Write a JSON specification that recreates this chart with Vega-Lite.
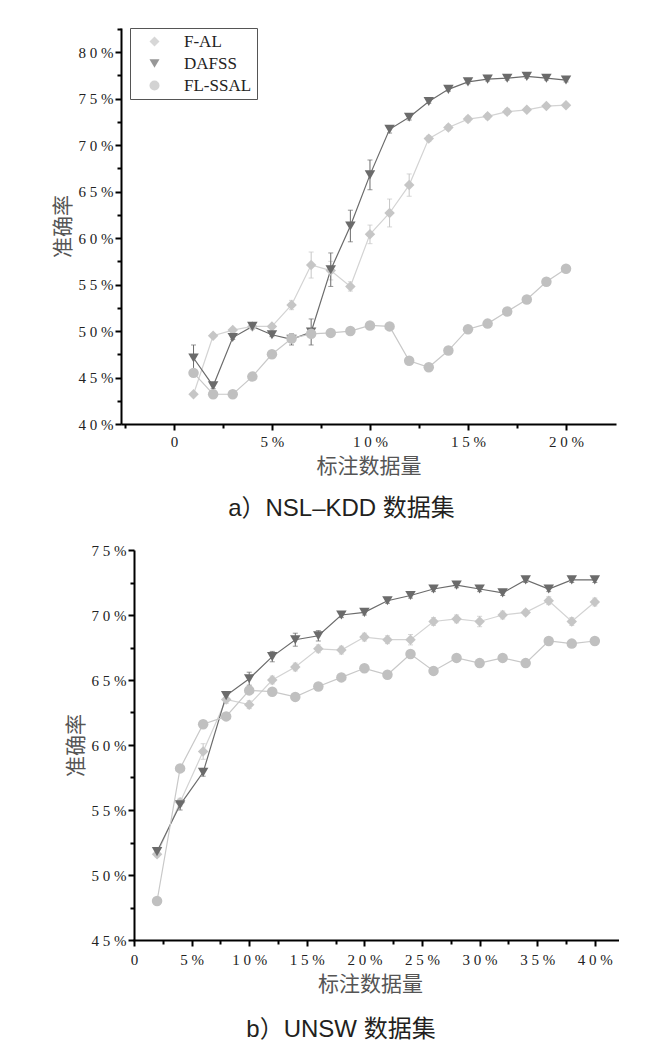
{
  "$schema": "https://vega.github.io/schema/vega-lite/v6.json",
  "background": "white",
  "padding": {"left": 52, "top": 21, "right": 0, "bottom": 0},
  "spacing": 22,
  "config": {"view": {"stroke": null}, "font": "Liberation Serif"},
  "datasets": {
    "nsl": [
      {"m": "F-AL", "x": 1, "y": 43.2, "e": 0.2}, {"m": "F-AL", "x": 2, "y": 49.5, "e": 0.2}, {"m": "F-AL", "x": 3, "y": 50.1, "e": 0.2}, {"m": "F-AL", "x": 4, "y": 50.5, "e": 0.3}, {"m": "F-AL", "x": 5, "y": 50.5, "e": 0.2},
      {"m": "F-AL", "x": 6, "y": 52.8, "e": 0.5}, {"m": "F-AL", "x": 7, "y": 57.1, "e": 1.4}, {"m": "F-AL", "x": 8, "y": 56.5, "e": 1.0}, {"m": "F-AL", "x": 9, "y": 54.8, "e": 0.5}, {"m": "F-AL", "x": 10, "y": 60.4, "e": 1.0},
      {"m": "F-AL", "x": 11, "y": 62.7, "e": 1.5}, {"m": "F-AL", "x": 12, "y": 65.7, "e": 1.2}, {"m": "F-AL", "x": 13, "y": 70.7, "e": 0.3}, {"m": "F-AL", "x": 14, "y": 71.9, "e": 0.3}, {"m": "F-AL", "x": 15, "y": 72.8, "e": 0.3},
      {"m": "F-AL", "x": 16, "y": 73.1, "e": 0.3}, {"m": "F-AL", "x": 17, "y": 73.6, "e": 0.3}, {"m": "F-AL", "x": 18, "y": 73.8, "e": 0.2}, {"m": "F-AL", "x": 19, "y": 74.2, "e": 0.2}, {"m": "F-AL", "x": 20, "y": 74.3, "e": 0.2},
      {"m": "DAFSS", "x": 1, "y": 47.1, "e": 1.4}, {"m": "DAFSS", "x": 2, "y": 44.1, "e": 0.3}, {"m": "DAFSS", "x": 3, "y": 49.3, "e": 0.2}, {"m": "DAFSS", "x": 4, "y": 50.5, "e": 0.2}, {"m": "DAFSS", "x": 5, "y": 49.6, "e": 0.2},
      {"m": "DAFSS", "x": 6, "y": 49.1, "e": 0.6}, {"m": "DAFSS", "x": 7, "y": 49.9, "e": 1.4}, {"m": "DAFSS", "x": 8, "y": 56.6, "e": 1.8}, {"m": "DAFSS", "x": 9, "y": 61.3, "e": 1.7}, {"m": "DAFSS", "x": 10, "y": 66.8, "e": 1.6},
      {"m": "DAFSS", "x": 11, "y": 71.7, "e": 0.4}, {"m": "DAFSS", "x": 12, "y": 73.0, "e": 0.3}, {"m": "DAFSS", "x": 13, "y": 74.7, "e": 0.2}, {"m": "DAFSS", "x": 14, "y": 76.0, "e": 0.2}, {"m": "DAFSS", "x": 15, "y": 76.8, "e": 0.2},
      {"m": "DAFSS", "x": 16, "y": 77.1, "e": 0.2}, {"m": "DAFSS", "x": 17, "y": 77.2, "e": 0.2}, {"m": "DAFSS", "x": 18, "y": 77.4, "e": 0.2}, {"m": "DAFSS", "x": 19, "y": 77.2, "e": 0.2}, {"m": "DAFSS", "x": 20, "y": 77.0, "e": 0.2},
      {"m": "FL-SSAL", "x": 1, "y": 45.5, "e": 0}, {"m": "FL-SSAL", "x": 2, "y": 43.2, "e": 0}, {"m": "FL-SSAL", "x": 3, "y": 43.2, "e": 0}, {"m": "FL-SSAL", "x": 4, "y": 45.1, "e": 0}, {"m": "FL-SSAL", "x": 5, "y": 47.5, "e": 0},
      {"m": "FL-SSAL", "x": 6, "y": 49.2, "e": 0}, {"m": "FL-SSAL", "x": 7, "y": 49.7, "e": 0}, {"m": "FL-SSAL", "x": 8, "y": 49.8, "e": 0}, {"m": "FL-SSAL", "x": 9, "y": 50.0, "e": 0}, {"m": "FL-SSAL", "x": 10, "y": 50.6, "e": 0},
      {"m": "FL-SSAL", "x": 11, "y": 50.5, "e": 0}, {"m": "FL-SSAL", "x": 12, "y": 46.8, "e": 0}, {"m": "FL-SSAL", "x": 13, "y": 46.1, "e": 0}, {"m": "FL-SSAL", "x": 14, "y": 47.9, "e": 0}, {"m": "FL-SSAL", "x": 15, "y": 50.2, "e": 0},
      {"m": "FL-SSAL", "x": 16, "y": 50.8, "e": 0}, {"m": "FL-SSAL", "x": 17, "y": 52.1, "e": 0}, {"m": "FL-SSAL", "x": 18, "y": 53.4, "e": 0}, {"m": "FL-SSAL", "x": 19, "y": 55.3, "e": 0}, {"m": "FL-SSAL", "x": 20, "y": 56.7, "e": 0}
    ],
    "unsw": [
      {"m": "F-AL", "x": 2, "y": 51.6, "e": 0.2}, {"m": "F-AL", "x": 4, "y": 55.6, "e": 0.3}, {"m": "F-AL", "x": 6, "y": 59.5, "e": 0.6}, {"m": "F-AL", "x": 8, "y": 63.5, "e": 0.3}, {"m": "F-AL", "x": 10, "y": 63.1, "e": 0.3},
      {"m": "F-AL", "x": 12, "y": 65.0, "e": 0.3}, {"m": "F-AL", "x": 14, "y": 66.0, "e": 0.3}, {"m": "F-AL", "x": 16, "y": 67.4, "e": 0.3}, {"m": "F-AL", "x": 18, "y": 67.3, "e": 0.3}, {"m": "F-AL", "x": 20, "y": 68.3, "e": 0.3},
      {"m": "F-AL", "x": 22, "y": 68.1, "e": 0.3}, {"m": "F-AL", "x": 24, "y": 68.1, "e": 0.4}, {"m": "F-AL", "x": 26, "y": 69.5, "e": 0.3}, {"m": "F-AL", "x": 28, "y": 69.7, "e": 0.3}, {"m": "F-AL", "x": 30, "y": 69.5, "e": 0.4},
      {"m": "F-AL", "x": 32, "y": 70.0, "e": 0.3}, {"m": "F-AL", "x": 34, "y": 70.2, "e": 0.2}, {"m": "F-AL", "x": 36, "y": 71.1, "e": 0.3}, {"m": "F-AL", "x": 38, "y": 69.5, "e": 0.3}, {"m": "F-AL", "x": 40, "y": 71.0, "e": 0.3},
      {"m": "DAFSS", "x": 2, "y": 51.8, "e": 0.2}, {"m": "DAFSS", "x": 4, "y": 55.4, "e": 0.4}, {"m": "DAFSS", "x": 6, "y": 57.9, "e": 0.3}, {"m": "DAFSS", "x": 8, "y": 63.8, "e": 0.3}, {"m": "DAFSS", "x": 10, "y": 65.1, "e": 0.5},
      {"m": "DAFSS", "x": 12, "y": 66.8, "e": 0.4}, {"m": "DAFSS", "x": 14, "y": 68.1, "e": 0.5}, {"m": "DAFSS", "x": 16, "y": 68.4, "e": 0.4}, {"m": "DAFSS", "x": 18, "y": 70.0, "e": 0.2}, {"m": "DAFSS", "x": 20, "y": 70.2, "e": 0.2},
      {"m": "DAFSS", "x": 22, "y": 71.1, "e": 0.2}, {"m": "DAFSS", "x": 24, "y": 71.5, "e": 0.2}, {"m": "DAFSS", "x": 26, "y": 72.0, "e": 0.2}, {"m": "DAFSS", "x": 28, "y": 72.3, "e": 0.2}, {"m": "DAFSS", "x": 30, "y": 72.0, "e": 0.2},
      {"m": "DAFSS", "x": 32, "y": 71.7, "e": 0.2}, {"m": "DAFSS", "x": 34, "y": 72.7, "e": 0.2}, {"m": "DAFSS", "x": 36, "y": 72.0, "e": 0.2}, {"m": "DAFSS", "x": 38, "y": 72.7, "e": 0.2}, {"m": "DAFSS", "x": 40, "y": 72.7, "e": 0.2},
      {"m": "FL-SSAL", "x": 2, "y": 48.0, "e": 0}, {"m": "FL-SSAL", "x": 4, "y": 58.2, "e": 0}, {"m": "FL-SSAL", "x": 6, "y": 61.6, "e": 0}, {"m": "FL-SSAL", "x": 8, "y": 62.2, "e": 0}, {"m": "FL-SSAL", "x": 10, "y": 64.2, "e": 0},
      {"m": "FL-SSAL", "x": 12, "y": 64.1, "e": 0}, {"m": "FL-SSAL", "x": 14, "y": 63.7, "e": 0}, {"m": "FL-SSAL", "x": 16, "y": 64.5, "e": 0}, {"m": "FL-SSAL", "x": 18, "y": 65.2, "e": 0}, {"m": "FL-SSAL", "x": 20, "y": 65.9, "e": 0},
      {"m": "FL-SSAL", "x": 22, "y": 65.4, "e": 0}, {"m": "FL-SSAL", "x": 24, "y": 67.0, "e": 0}, {"m": "FL-SSAL", "x": 26, "y": 65.7, "e": 0}, {"m": "FL-SSAL", "x": 28, "y": 66.7, "e": 0}, {"m": "FL-SSAL", "x": 30, "y": 66.3, "e": 0},
      {"m": "FL-SSAL", "x": 32, "y": 66.7, "e": 0}, {"m": "FL-SSAL", "x": 34, "y": 66.3, "e": 0}, {"m": "FL-SSAL", "x": 36, "y": 68.0, "e": 0}, {"m": "FL-SSAL", "x": 38, "y": 67.8, "e": 0}, {"m": "FL-SSAL", "x": 40, "y": 68.0, "e": 0}
    ]
  },
  "vconcat": [
    {
      "width": 495,
      "height": 396,
      "data": {"name": "nsl"},
      "title": {"text": "a）NSL–KDD 数据集", "orient": "bottom", "anchor": "middle", "dx": -27, "offset": 21, "font": "Liberation Sans, Noto Sans CJK SC", "fontSize": 24, "fontWeight": "normal", "color": "#231f20"},
      "encoding": {
        "x": {"field": "x", "type": "quantitative", "scale": {"domain": [-2.7, 22.55], "nice": false, "zero": false},
          "axis": {"values": [-2.5, 0, 2.5, 5, 7.5, 10, 12.5, 15, 17.5, 20],
            "labelExpr": "datum.value == 0 ? '0' : (datum.value % 5 != 0 ? '' : (datum.value < 10 ? datum.value + ' %' : floor(datum.value/10) + ' ' + (datum.value % 10) + ' %'))",
            "title": "标注数据量", "titleFont": "Noto Sans CJK SC", "titleFontSize": 21, "titleFontWeight": "normal", "titleColor": "#555", "titlePadding": 6,
            "labelFont": "Liberation Serif", "labelFontSize": 15, "labelColor": "#222", "labelPadding": 4, "labelFlush": false, "labelOverlap": false,
            "tickSize": {"condition": {"test": "datum.value % 5 != 0", "value": 4}, "value": 6}, "tickColor": "#000", "tickWidth": 2,
            "domainColor": "#000", "domainWidth": 2, "grid": false}},
        "y": {"field": "y", "type": "quantitative", "scale": {"domain": [40, 82.6], "nice": false, "zero": false},
          "axis": {"values": [40, 42.5, 45, 47.5, 50, 52.5, 55, 57.5, 60, 62.5, 65, 67.5, 70, 72.5, 75, 77.5, 80, 82.5],
            "labelExpr": "datum.value % 5 == 0 ? floor(datum.value/10) + ' ' + (datum.value % 10) + ' %' : ''",
            "title": "准确率", "titleFont": "Noto Sans CJK SC", "titleFontSize": 21, "titleFontWeight": "normal", "titleColor": "#555", "titlePadding": 5,
            "labelFont": "Liberation Serif", "labelFontSize": 15, "labelColor": "#222", "labelPadding": 2, "labelFlush": false, "labelOverlap": false,
            "tickSize": {"condition": {"test": "datum.value % 5 != 0", "value": 4}, "value": 6}, "tickColor": "#000", "tickWidth": 2,
            "domainColor": "#000", "domainWidth": 2, "grid": false}},
        "color": {"field": "m", "type": "nominal", "scale": {"domain": ["F-AL", "DAFSS", "FL-SSAL"], "range": ["#c6c6c6", "#6b6b6b", "#c0c0c0"]},
          "legend": {"title": null, "orient": "none", "legendX": 9, "legendY": 0, "strokeColor": "#555", "fillColor": "#fff", "padding": 5, "symbolOffset": 11, "labelOffset": 21, "labelFont": "Liberation Serif", "labelFontSize": 17, "labelColor": "#222", "rowPadding": 4, "symbolSize": 100, "symbolStrokeWidth": 0}}
      },
      "layer": [
        {"transform": [{"filter": "datum.m != 'FL-SSAL'"}], "mark": {"type": "errorbar", "ticks": true}, "encoding": {"yError": {"field": "e"}}},
        {"mark": {"type": "line", "strokeWidth": 1.2},
          "encoding": {"stroke": {"field": "m", "type": "nominal", "scale": {"domain": ["F-AL", "DAFSS", "FL-SSAL"], "range": ["#d3d3d3", "#6b6b6b", "#c8c8c8"]}, "legend": null}}},
        {"mark": {"type": "point", "filled": true, "opacity": 1, "size": 110},
          "encoding": {"shape": {"field": "m", "type": "nominal", "scale": {"domain": ["F-AL", "DAFSS", "FL-SSAL"], "range": ["diamond", "triangle-down", "circle"]},
            "legend": {"title": null, "orient": "none", "legendX": 9, "legendY": 0, "strokeColor": "#555", "fillColor": "#fff", "padding": 5, "symbolOffset": 11, "labelOffset": 21, "labelFont": "Liberation Serif", "labelFontSize": 17, "labelColor": "#222", "rowPadding": 4, "symbolSize": 100, "symbolStrokeWidth": 0}}}}
      ]
    },
    {
      "width": 498,
      "height": 390,
      "data": {"name": "unsw"},
      "title": {"text": "b）UNSW 数据集", "orient": "bottom", "anchor": "middle", "dx": -29, "offset": 24, "font": "Liberation Sans, Noto Sans CJK SC", "fontSize": 24, "fontWeight": "normal", "color": "#231f20"},
      "encoding": {
        "x": {"field": "x", "type": "quantitative", "scale": {"domain": [-1.13, 42.1], "nice": false, "zero": false},
          "axis": {"values": [0, 2.5, 5, 7.5, 10, 12.5, 15, 17.5, 20, 22.5, 25, 27.5, 30, 32.5, 35, 37.5, 40],
            "labelExpr": "datum.value == 0 ? '0' : (datum.value % 5 != 0 ? '' : (datum.value < 10 ? datum.value + ' %' : floor(datum.value/10) + ' ' + (datum.value % 10) + ' %'))",
            "title": "标注数据量", "titleFont": "Noto Sans CJK SC", "titleFontSize": 21, "titleFontWeight": "normal", "titleColor": "#555", "titlePadding": 6,
            "labelFont": "Liberation Serif", "labelFontSize": 15, "labelColor": "#222", "labelPadding": 6, "labelFlush": false, "labelOverlap": false,
            "tickSize": {"condition": {"test": "datum.value % 5 != 0", "value": 4}, "value": 6}, "tickColor": "#000", "tickWidth": 2,
            "domainColor": "#000", "domainWidth": 2, "domainDash": [0, 12, 600], "grid": false}},
        "y": {"field": "y", "type": "quantitative", "scale": {"domain": [45, 75], "nice": false, "zero": false},
          "axis": {"values": [45, 47.5, 50, 52.5, 55, 57.5, 60, 62.5, 65, 67.5, 70, 72.5, 75], "offset": -13,
            "labelExpr": "datum.value % 5 == 0 ? floor(datum.value/10) + ' ' + (datum.value % 10) + ' %' : ''",
            "title": "准确率", "titleFont": "Noto Sans CJK SC", "titleFontSize": 21, "titleFontWeight": "normal", "titleColor": "#555", "titlePadding": 5,
            "labelFont": "Liberation Serif", "labelFontSize": 15, "labelColor": "#222", "labelPadding": 2, "labelFlush": false, "labelOverlap": false,
            "tickSize": {"condition": {"test": "datum.value % 5 != 0", "value": 4}, "value": 6}, "tickColor": "#000", "tickWidth": 2,
            "domainColor": "#000", "domainWidth": 2, "grid": false}},
        "color": {"field": "m", "type": "nominal", "scale": {"domain": ["F-AL", "DAFSS", "FL-SSAL"], "range": ["#c6c6c6", "#6b6b6b", "#c0c0c0"]},
          "legend": {"title": null, "orient": "none", "legendX": 25, "legendY": 2, "strokeColor": "#555", "fillColor": "#fff", "padding": 5, "symbolOffset": 11, "labelOffset": 21, "labelFont": "Liberation Serif", "labelFontSize": 17, "labelColor": "#222", "rowPadding": 4, "symbolSize": 100, "symbolStrokeWidth": 0}}
      },
      "layer": [
        {"transform": [{"filter": "datum.m != 'FL-SSAL'"}], "mark": {"type": "errorbar", "ticks": true}, "encoding": {"yError": {"field": "e"}}},
        {"mark": {"type": "line", "strokeWidth": 1.2},
          "encoding": {"stroke": {"field": "m", "type": "nominal", "scale": {"domain": ["F-AL", "DAFSS", "FL-SSAL"], "range": ["#d3d3d3", "#6b6b6b", "#c8c8c8"]}, "legend": null}}},
        {"mark": {"type": "point", "filled": true, "opacity": 1, "size": 110},
          "encoding": {"shape": {"field": "m", "type": "nominal", "scale": {"domain": ["F-AL", "DAFSS", "FL-SSAL"], "range": ["diamond", "triangle-down", "circle"]},
            "legend": {"title": null, "orient": "none", "legendX": 25, "legendY": 2, "strokeColor": "#555", "fillColor": "#fff", "padding": 5, "symbolOffset": 11, "labelOffset": 21, "labelFont": "Liberation Serif", "labelFontSize": 17, "labelColor": "#222", "rowPadding": 4, "symbolSize": 100, "symbolStrokeWidth": 0}}}}
      ]
    }
  ]
}
